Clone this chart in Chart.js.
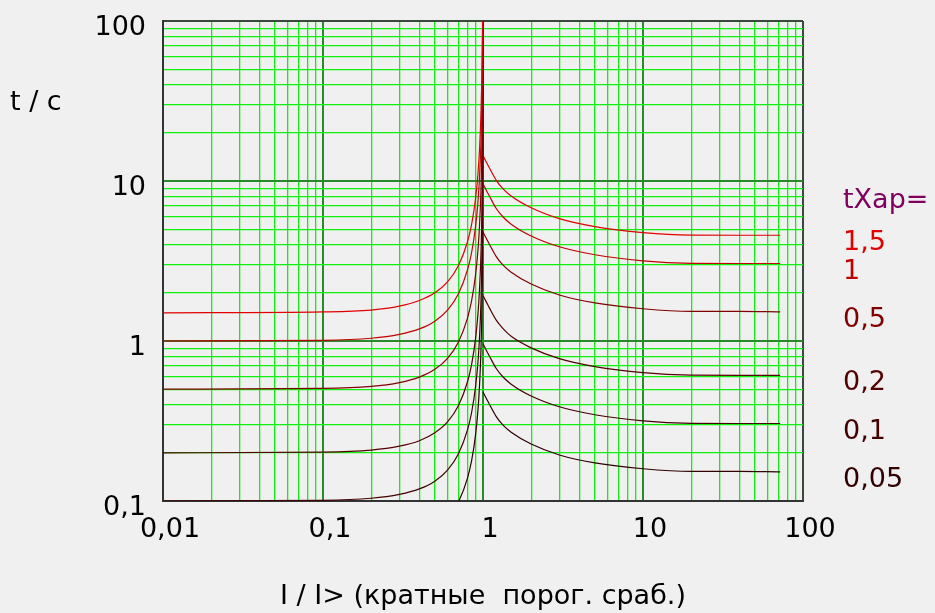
<!DOCTYPE html>
<html>
<head>
<meta charset="utf-8">
<script src="https://cdn.jsdelivr.net/npm/chart.js@4/dist/chart.umd.min.js"></script>
<style>
body{margin:0;background:#f0f0f0}
#wrap{width:935px;height:613px}
</style>
</head>
<body>
<div id="wrap"><canvas id="c" width="935" height="613"></canvas></div>
<script>
// series: time characteristic settings
let tXap = [1.5, 1, 0.5, 0.2, 0.1, 0.05]
let tXapText = ["1,5", "1", "0,5", "0,2", "0,1", "0,05"]

// axes
let xDecades = [0.01, 0.1, 1, 10, 100]
let xDecadeText = ["0,01", "0,1", "1", "10", "100"]
let yDecades = [0.1, 1, 10, 100]
let yDecadeText = ["0,1", "1", "10", "100"]

// I / I> points: branch below pickup, branch above pickup
let iLeft = [0.01, 0.1, 0.2, 0.3, 0.4, 0.5, 0.6, 0.7, 0.8, 0.85, 0.9, 0.93, 0.95, 0.97, 0.98, 0.99, 0.995, 0.9999]
let iRight = [1.0, 1.05, 1.1, 1.21, 1.33, 1.5, 2, 3, 5, 10, 20, 40, 72]

// t values (left branch, right branch)
let t150L = [1.50, 1.52, 1.56, 1.65, 1.79, 2.00, 2.34, 2.94, 4.17, 5.40, 7.89, 11.1, 15.4, 25.4, 38.0, 75.4, 150, 7500]
let t150R = [14.4, 13.1, 12.0, 10.1, 8.97, 8.06, 6.80, 5.82, 5.19, 4.76, 4.59, 4.58, 4.58]
let t100L = [1.00, 1.01, 1.04, 1.10, 1.19, 1.33, 1.56, 1.96, 2.78, 3.60, 5.26, 7.40, 10.3, 16.9, 25.3, 50.3, 100, 5000]
let t100R = [9.6, 8.73, 8.0, 6.73, 5.98, 5.37, 4.53, 3.88, 3.46, 3.17, 3.06, 3.05, 3.05]
let t050L = [0.50, 0.505, 0.52, 0.55, 0.595, 0.665, 0.78, 0.98, 1.39, 1.80, 2.63, 3.70, 5.15, 8.45, 12.7, 25.2, 50, 2500]
let t050R = [4.8, 4.37, 4.0, 3.37, 2.99, 2.69, 2.27, 1.94, 1.73, 1.59, 1.53, 1.53, 1.52]
let t020L = [0.20, 0.202, 0.208, 0.22, 0.238, 0.267, 0.312, 0.392, 0.556, 0.72, 1.05, 1.48, 2.05, 3.38, 5.05, 10.1, 20, 1000]
let t020R = [1.92, 1.75, 1.6, 1.35, 1.2, 1.07, 0.906, 0.776, 0.692, 0.634, 0.612, 0.61, 0.61]
let t010L = [0.10, 0.101, 0.104, 0.11, 0.119, 0.133, 0.156, 0.196, 0.278, 0.36, 0.526, 0.74, 1.03, 1.69, 2.53, 5.03, 10, 500]
let t010R = [0.96, 0.873, 0.8, 0.673, 0.598, 0.537, 0.453, 0.388, 0.346, 0.317, 0.306, 0.305, 0.305]
let t005L = [0.05, 0.0505, 0.052, 0.055, 0.0595, 0.0665, 0.078, 0.098, 0.139, 0.18, 0.263, 0.37, 0.515, 0.845, 1.27, 2.52, 5, 250]
let t005R = [0.48, 0.437, 0.4, 0.337, 0.299, 0.269, 0.227, 0.194, 0.173, 0.159, 0.153, 0.153, 0.152]

let leftSeries = [t150L, t100L, t050L, t020L, t010L, t005L]
let rightSeries = [t150R, t100R, t050R, t020R, t010R, t005R]
let colors = ["#e00000", "#c00000", "#800000", "#550000", "#420000", "#300000"]

let FONT = "'DejaVu Sans', sans-serif"

function isDecade(v){
  let l = Math.log10(v)
  return Math.abs(l - Math.round(l)) < 1e-6
}

function labelFor(v, decades, texts){
  for(let i=0;i<decades.length;i++){
    if(Math.abs(Math.log10(v) - Math.log10(decades[i])) < 1e-6) return texts[i]
  }
  return ""
}

function logTicks(decades){
  let out = []
  for(let i=0;i<decades.length-1;i++){
    for(let k=1;k<10;k++) out.push({value: decades[i]*k})
  }
  out.push({value: decades[decades.length-1]})
  return out
}

function gridColor(ctx, max){
  let v = ctx.tick ? ctx.tick.value : 0
  if(Math.abs(v - max) < 1e-9) return "#3a4a3a"
  if(isDecade(v)) return "#2a8a2a"
  return "#10f010"
}

function gridWidth(ctx){
  return isDecade(ctx.tick.value) ? 2 : 1.3
}

function line(xs, ys, n){
  return {
    label: tXapText[n],
    data: xs.map((x, i) => ({x: x, y: ys[i]})),
    borderColor: colors[n],
    borderWidth: 1.2,
    pointRadius: 0,
    cubicInterpolationMode: "monotone",
    fill: false
  }
}

let datasets = []
leftSeries.forEach((s, n) => datasets.push(line(iLeft, s, n)))
rightSeries.forEach((s, n) => datasets.push(line(iRight, s, n)))

let textPlugin = {
  id: "texts",
  afterDraw(chart){
    let ctx = chart.ctx
    let y = chart.scales.y
    ctx.save()
    ctx.font = "27px " + FONT
    ctx.textBaseline = "middle"
    ctx.textAlign = "left"
    ctx.fillStyle = "#000"
    ctx.fillText("t / c", 10, 103)
    ctx.fillStyle = "#800060"
    ctx.fillText("tХар=", 843, 201)
    rightSeries.forEach((s, n) => {
      ctx.fillStyle = colors[n]
      ctx.fillText(tXapText[n], 843, y.getPixelForValue(s[s.length-1]) + 8)
    })
    ctx.restore()
  }
}

new Chart(document.getElementById("c"), {
  type: "line",
  data: {datasets: datasets},
  options: {
    responsive: false,
    animation: false,
    layout: {padding: {top: 21, right: 132, left: 0, bottom: 0}},
    plugins: {legend: {display: false}, tooltip: {enabled: false}},
    scales: {
      x: {
        type: "logarithmic",
        min: 0.01,
        max: 100,
        afterBuildTicks: s => { s.ticks = logTicks(xDecades) },
        afterFit: s => { s.height = 112; s.paddingLeft = 0; s.paddingRight = 0 },
        grid: {color: c => gridColor(c, 100), lineWidth: gridWidth, drawTicks: false},
        border: {color: "#333", width: 2},
        ticks: {
          autoSkip: false, maxRotation: 0, minRotation: 0,
          padding: 13, labelOffset: 7, color: "#000",
          font: {family: FONT, size: 27},
          callback: v => labelFor(v, xDecades, xDecadeText)
        },
        title: {
          display: true,
          text: "I / I> (кратные  порог. сраб.)",
          color: "#000",
          font: {family: FONT, size: 27},
          padding: {top: 0, bottom: 0}
        }
      },
      y: {
        type: "logarithmic",
        min: 0.1,
        max: 100,
        afterBuildTicks: s => { s.ticks = logTicks(yDecades) },
        afterFit: s => { s.width = 163; s.paddingTop = 0; s.paddingBottom = 0 },
        grid: {color: c => gridColor(c, 100), lineWidth: gridWidth, drawTicks: false},
        border: {color: "#333", width: 2},
        ticks: {
          autoSkip: false,
          padding: 17, labelOffset: 7, color: "#000",
          font: {family: FONT, size: 27},
          callback: v => labelFor(v, yDecades, yDecadeText)
        }
      }
    }
  },
  plugins: [textPlugin]
})
</script>
</body>
</html>
